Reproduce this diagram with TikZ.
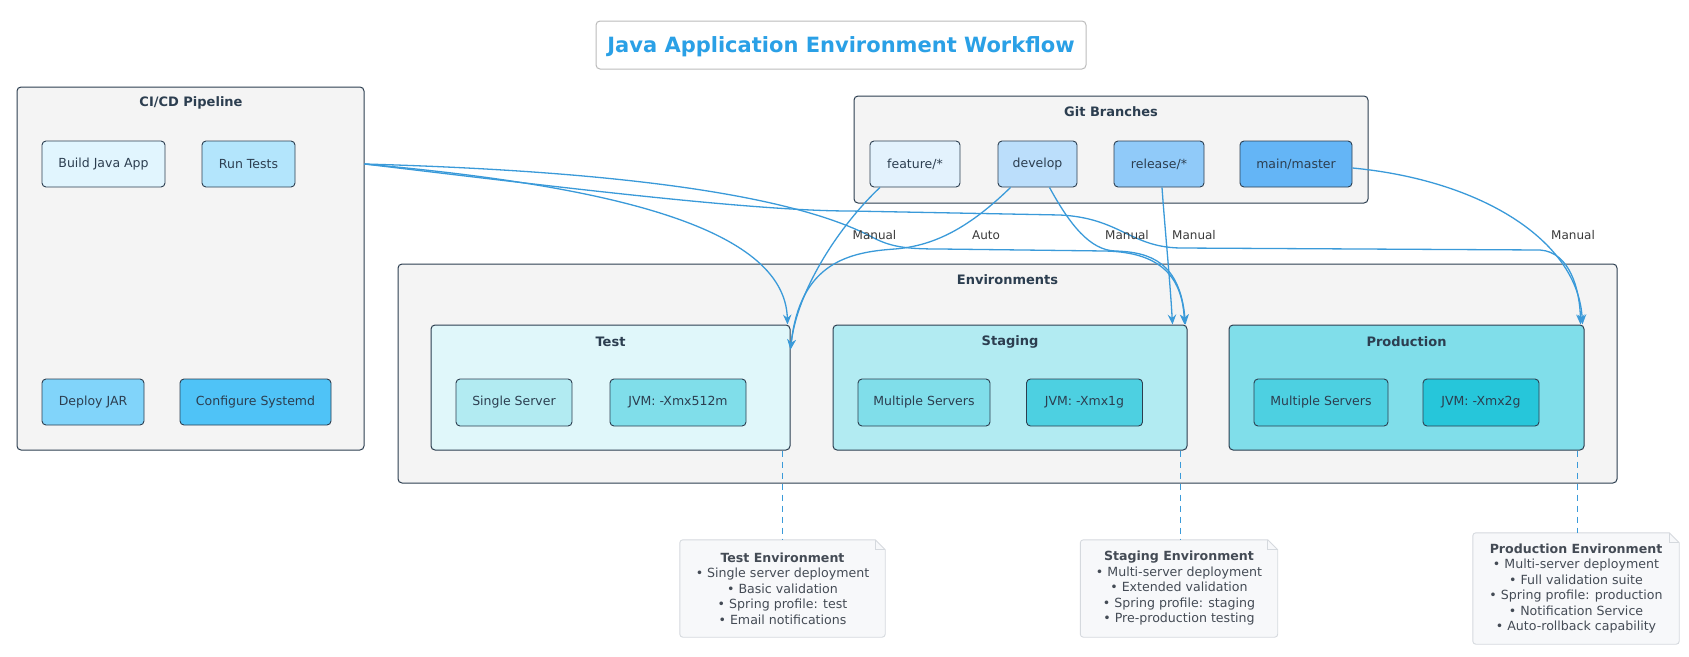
\documentclass[tikz,border=0pt]{standalone}
\usepackage{fontspec}
\setmainfont{DejaVu Sans}
\usetikzlibrary{arrows.meta,calc}

\definecolor{navy}{HTML}{2C3E50}
\definecolor{clusterbg}{HTML}{F4F4F4}
\definecolor{edgeblue}{HTML}{3A9AD9}
\definecolor{titleblue}{HTML}{2AA0E6}
\definecolor{titlegray}{HTML}{BBBBBB}
\definecolor{notebg}{HTML}{F7F8FA}
\definecolor{noteline}{HTML}{D5D9DE}
\definecolor{notetext}{HTML}{444B55}
\definecolor{lbltext}{HTML}{3A3A3A}
\definecolor{cA}{HTML}{E1F5FE}
\definecolor{cB}{HTML}{B3E5FC}
\definecolor{cC}{HTML}{81D4FA}
\definecolor{cD}{HTML}{4FC3F7}
\definecolor{gA}{HTML}{E3F2FD}
\definecolor{gB}{HTML}{BBDEFB}
\definecolor{gC}{HTML}{90CAF9}
\definecolor{gD}{HTML}{64B5F6}
\definecolor{eA}{HTML}{E0F7FA}
\definecolor{eB}{HTML}{B2EBF2}
\definecolor{eC}{HTML}{80DEEA}
\definecolor{eD}{HTML}{4DD0E1}
\definecolor{eE}{HTML}{26C6DA}

\begin{document}
\begin{tikzpicture}[x=1pt,y=-1pt,
  cluster/.style={draw=navy, fill=clusterbg, rounded corners=4pt, line width=1pt, inner sep=0pt},
  cltitle/.style={text=navy, font=\fontsize{13}{15}\selectfont\bfseries, inner sep=0pt},
  envbox/.style={draw=navy, rounded corners=4pt, line width=1pt, inner sep=0pt},
  item/.style={draw=navy, rounded corners=4pt, line width=0.9pt, text=navy, minimum height=46pt,
    font=\fontsize{12.5}{15}\selectfont, inner sep=0pt},
  flow/.style={draw=edgeblue, line width=1.3pt, -{Stealth[length=10pt,width=8.5pt,inset=3.5pt]}},
  lbl/.style={text=lbltext, font=\fontsize{12}{14}\selectfont, inner sep=1pt},
  notebox/.style={text=notetext, align=center, font=\fontsize{12.6}{15.5}\selectfont, inner sep=0pt},
  noteshape/.style={draw=noteline, fill=notebg, line width=0.9pt},
  notelink/.style={draw=edgeblue, line width=1.1pt, dash pattern=on 6pt off 5pt}
]
\useasboundingbox (0,0) rectangle (1689,656);

% title
\node[draw=titlegray, fill=white, rounded corners=4pt, line width=1pt, minimum width=490pt, minimum height=48pt,
  text height=15.3pt, text depth=0pt,
  text=titleblue, font=\fontsize{21}{24}\selectfont\bfseries] (title) at (841,45) {Java Application Environment Workflow};

% clusters
\node[cluster, minimum width=347pt, minimum height=363pt] (cicd) at (190.5,268.5) {};
\node[cltitle] (cicdtitle) at (191,103) {CI/CD Pipeline};
\node[cluster, minimum width=514pt, minimum height=107pt] (git) at (1111,149.5) {};
\node[cltitle] (gittitle) at (1111,112) {Git Branches};
\node[cluster, minimum width=1219pt, minimum height=219pt] (env) at (1007.5,373.5) {};
\node[cltitle] (envtitle) at (1007.5,280) {Environments};

\node[envbox, fill=eA, minimum width=359pt, minimum height=125pt] (test) at (610.5,387.5) {};
\node[cltitle] (testtitle) at (610.5,342) {Test};
\node[envbox, fill=eB, minimum width=354pt, minimum height=125pt] (staging) at (1010,387.5) {};
\node[cltitle] (stagingtitle) at (1010,342) {Staging};
\node[envbox, fill=eC, minimum width=355pt, minimum height=125pt] (prod) at (1406.5,387.5) {};
\node[cltitle] (prodtitle) at (1406.5,342) {Production};

% CI/CD items
\node[item, fill=cA, minimum width=123pt] (build) at (103.5,164) {Build Java App};
\node[item, fill=cB, minimum width=93pt] (runtests) at (248.5,164) {Run Tests};
\node[item, fill=cC, minimum width=102pt] (deploy) at (93,402) {Deploy JAR};
\node[item, fill=cD, minimum width=151pt] (systemd) at (255.5,402) {Configure Systemd};

% git items
\node[item, fill=gA, minimum width=90pt] (feature) at (915,164) {feature/*};
\node[item, fill=gB, minimum width=79pt] (develop) at (1037.5,164) {develop};
\node[item, fill=gC, minimum width=90pt] (release) at (1159,164) {release/*};
\node[item, fill=gD, minimum width=112pt] (main) at (1296,164) {main/master};

% env items
\node[item, fill=eB, minimum width=116pt, minimum height=47pt] (single) at (514,402.5) {Single Server};
\node[item, fill=eC, minimum width=136pt, minimum height=47pt] (jvmA) at (678,402.5) {JVM: -Xmx512m};
\node[item, fill=eC, minimum width=132pt, minimum height=47pt] (multiA) at (924,402.5) {Multiple Servers};
\node[item, fill=eD, minimum width=116pt, minimum height=47pt] (jvmB) at (1084.5,402.5) {JVM: -Xmx1g};
\node[item, fill=eD, minimum width=134pt, minimum height=47pt] (multiB) at (1321,402.5) {Multiple Servers};
\node[item, fill=eE, minimum width=116pt, minimum height=47pt] (jvmC) at (1481,402.5) {JVM: -Xmx2g};

% edges from CI/CD
\draw[flow] (cicd.east |- build.center) .. controls (600,185) and (785,225) .. ([xshift=-3pt]test.north east);
\draw[flow] (cicd.east |- build.center) .. controls (650,172) and (800,200) .. (870,236)
  .. controls (890,247) and (905,249) .. (940,249) -- (1105,251)
  .. controls (1150,252) and (1182,268) .. ([xshift=-3pt]staging.north east);
\draw[flow] (cicd.east |- build.center) .. controls (550,186) and (750,211) .. (850,211) -- (1060,215)
  .. controls (1120,218) and (1130,247) .. (1180,248) -- (1540,250)
  .. controls (1570,252) and (1580,290) .. ([xshift=-4pt]prod.north east);

% edges from git branches
\draw[flow] ([xshift=-35pt]feature.south) .. controls (840,225) and (797,290) .. ([yshift=-25pt]test.north east);
\draw[flow] ([xshift=-27pt]develop.south) .. controls (965,232) and (930,246) .. (895,249)
  .. controls (850,252) and (800,262) .. ([yshift=-25pt]test.north east);
\draw[flow] ([xshift=12pt]develop.south) .. controls (1070,225) and (1090,250) .. (1115,251)
  .. controls (1150,252) and (1180,262) .. ([xshift=-2pt]staging.north east);
\draw[flow] ([xshift=3pt]release.south) .. controls (1165,230) and (1170,280) .. ([xshift=-15pt]staging.north east);
\draw[flow] ([yshift=-4pt]main.east) .. controls (1480,180) and (1578,240) .. ([xshift=-2pt]prod.north east);

% edge labels
\node[lbl] (l1) at (874.5,235) {Manual};
\node[lbl] (l2) at (986,235) {Auto};
\node[lbl] (l3) at (1127,235) {Manual};
\node[lbl] (l4) at (1194,235) {Manual};
\node[lbl] (l5) at (1573,235) {Manual};

% notes
\node[notebox, minimum width=205pt, minimum height=97pt] (testnote) at (782.5,588.5) {};
\node[notebox, minimum width=197pt, minimum height=97pt] (stagingnote) at (1179,588.5) {};
\node[notebox, minimum width=206pt, minimum height=111pt] (prodnote) at (1576,588.5) {};
\foreach \n in {testnote,stagingnote,prodnote}{
  \draw[noteshape] ([xshift=-10pt]\n.north east) -- ([yshift=-10pt]\n.north east)
    [rounded corners=3pt] -- (\n.south east) -- (\n.south west) -- (\n.north west) [sharp corners] -- cycle;
  \draw[draw=noteline, line width=0.9pt] ([xshift=-10pt]\n.north east) -- ([xshift=-10pt,yshift=-10pt]\n.north east) -- ([yshift=-10pt]\n.north east);
}
\node[notebox] at (testnote) {\textbf{Test Environment}\\• Single server deployment\\• Basic validation\\• Spring profile: test\\• Email notifications};
\node[notebox] at (stagingnote) {\textbf{Staging Environment}\\• Multi-server deployment\\• Extended validation\\• Spring profile: staging\\• Pre-production testing};
\node[notebox] at (prodnote) {\textbf{Production Environment}\\• Multi-server deployment\\• Full validation suite\\• Spring profile: production\\• Notification Service\\• Auto-rollback capability};

% note links
\draw[notelink] ([xshift=-8pt]test.south east) -- ([xshift=-8pt]test.south east |- testnote.north);
\draw[notelink] ([xshift=-7pt]staging.south east) -- ([xshift=-7pt]staging.south east |- stagingnote.north);
\draw[notelink] ([xshift=-7pt]prod.south east) -- ([xshift=-7pt]prod.south east |- prodnote.north);
\end{tikzpicture}
\end{document}
